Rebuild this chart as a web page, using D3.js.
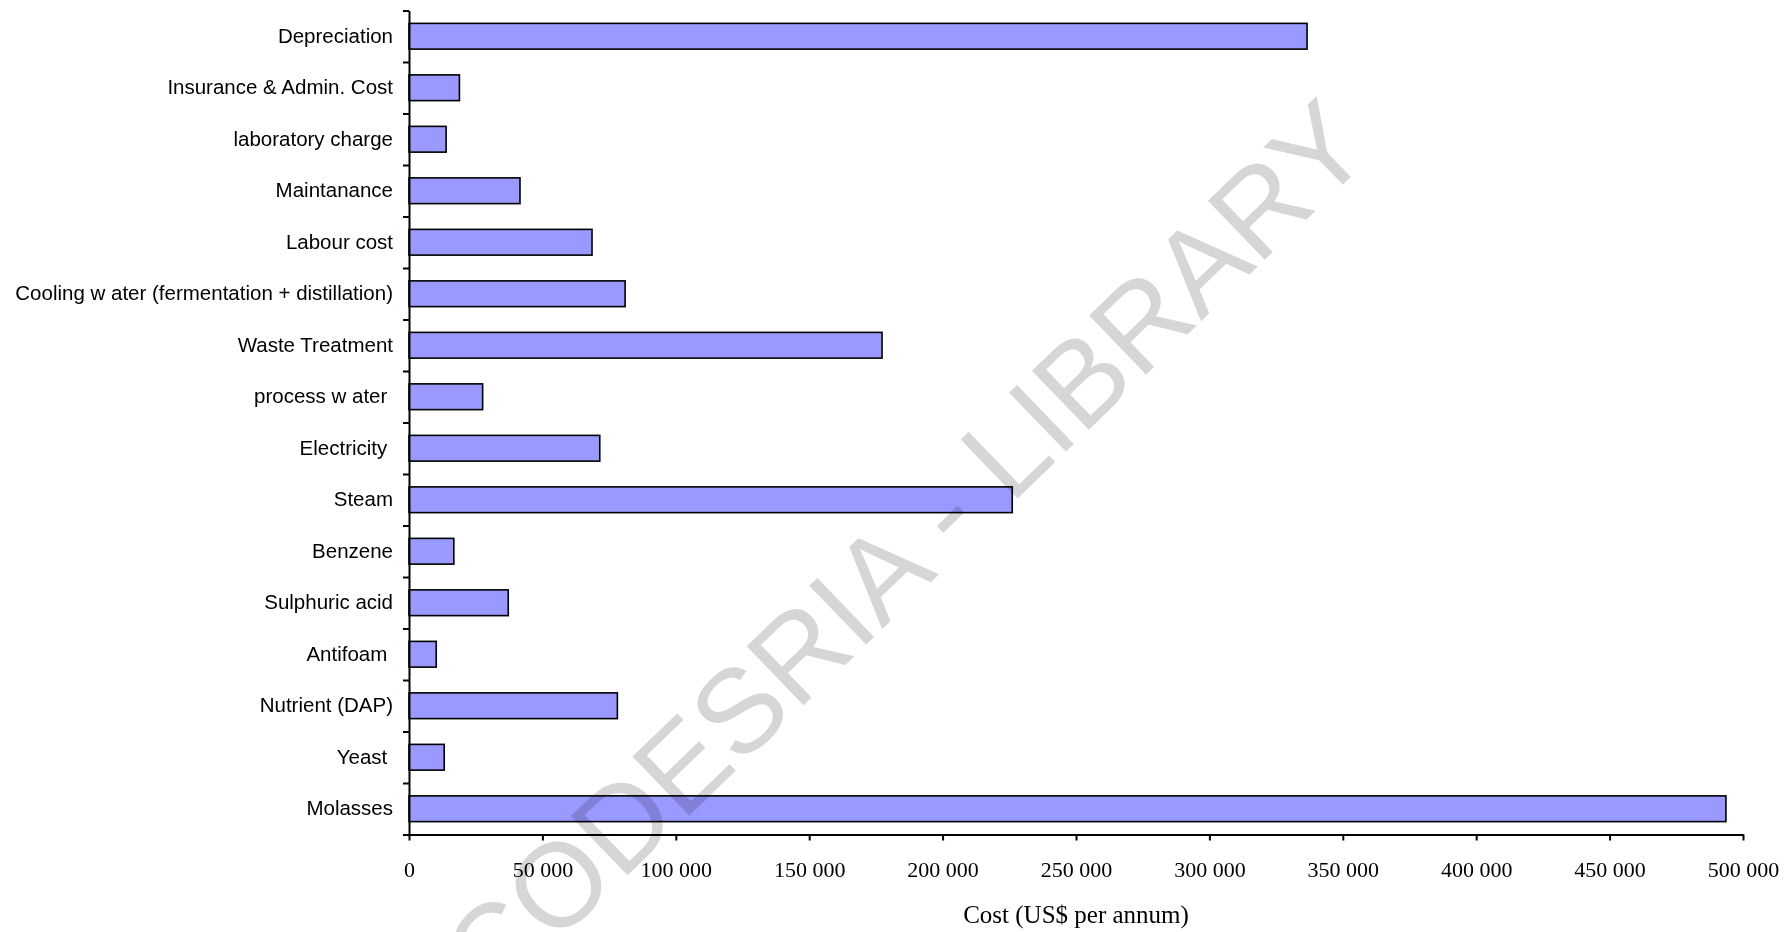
<!DOCTYPE html>
<html>
<head>
<meta charset="utf-8">
<script src="https://cdn.jsdelivr.net/npm/d3@7"></script>
<style>
  body { margin: 0; background: #fff; }
  svg { display: block; }
</style>
</head>
<body>
<div id="chart"></div>
<script>
// categories, top to bottom as in the chart
var categories = ["Depreciation", "Insurance & Admin. Cost", "laboratory charge", "Maintanance",
  "Labour cost", "Cooling w ater (fermentation + distillation)", "Waste Treatment",
  "process w ater ", "Electricity ", "Steam", "Benzene", "Sulphuric acid",
  "Antifoam ", "Nutrient (DAP)", "Yeast ", "Molasses"];

// cost in US$ per annum
var costs = [336600, 18900, 13900, 41600, 68600, 81000, 177300, 27600,
  71500, 226100, 16800, 37200, 10200, 78100, 13200, 493600];

var xTicks = [0, 50000, 100000, 150000, 200000, 250000, 300000, 350000, 400000, 450000, 500000];

var xTitle = "Cost (US$ per annum)";
var watermark = "CODESRIA - LIBRARY";

width = 1789
height = 932

var svg = d3.select("#chart").append("svg")
    .attr("width", width)
    .attr("height", height);

var plotLeft = 409, plotRight = 1743, plotTop = 10.5, plotBottom = 834.5;

var x = d3.scaleLinear()
    .domain([0, 500000])
    .range([plotLeft, plotRight]);

var y = d3.scaleBand()
    .domain(categories)
    .range([plotTop, plotBottom])
    .paddingInner(0.5)
    .paddingOuter(0.25);

//bars
svg.append("g").selectAll("rect")
  .data(categories)
  .enter().append("rect")
    .attr("x", x(0))
    .attr("y", function(d) { return y(d); })
    .attr("width", function(d, i) { return x(costs[i]) - x(0); })
    .attr("height", y.bandwidth())
    .style("fill", "#9999ff")
    .style("stroke", "#000")
    .style("stroke-width", 1.6);

//category labels
svg.append("g").selectAll("text")
  .data(categories)
  .enter().append("text")
    .attr("x", 393)
    .attr("y", function(d) { return y(d) + y.bandwidth() / 2; })
    .attr("dy", "0.32em")
    .attr("text-anchor", "end")
    .style("white-space", "pre")
    .style("font-family", "'Liberation Sans', Arial, sans-serif")
    .style("font-size", "20.5px")
    .style("fill", "#000")
    .text(function(d) { return d; });

//y axis, ticks sit between the categories like in excel
var yEdges = d3.scaleLinear().domain([0, categories.length]).range([plotTop, plotBottom]);
svg.append("g")
    .attr("transform", "translate(" + plotLeft + ",0)")
    .call(d3.axisLeft(yEdges).tickValues(d3.range(categories.length + 1)).tickSize(6).tickSizeOuter(0).tickFormat(""));

//x axis
var fmt = d3.formatLocale({decimal: ".", thousands: " ", grouping: [3], currency: ["", ""]}).format(",");
var xAxis = svg.append("g")
    .attr("transform", "translate(0," + plotBottom + ")")
    .call(d3.axisBottom(x).tickValues(xTicks).tickSize(6).tickSizeOuter(0).tickPadding(21).tickFormat(fmt));

xAxis.selectAll("text")
    .style("font-family", "'Liberation Serif', 'Times New Roman', serif")
    .style("font-size", "22px")
    .style("fill", "#000");

svg.selectAll(".domain, .tick line")
    .style("stroke", "#000")
    .style("stroke-width", 2);

svg.append("text")
    .attr("x", (plotLeft + plotRight) / 2)
    .attr("y", 923)
    .attr("text-anchor", "middle")
    .style("font-family", "'Liberation Serif', 'Times New Roman', serif")
    .style("font-size", "25px")
    .text(xTitle);

//watermark on top
svg.append("text")
    .attr("transform", "translate(492,1006) rotate(-44)")
    .style("font-family", "'Liberation Sans', Arial, sans-serif")
    .style("font-size", "119px")
    .style("fill", "#d6d6d6")
    .style("mix-blend-mode", "multiply")
    .text(watermark);
</script>
</body>
</html>
